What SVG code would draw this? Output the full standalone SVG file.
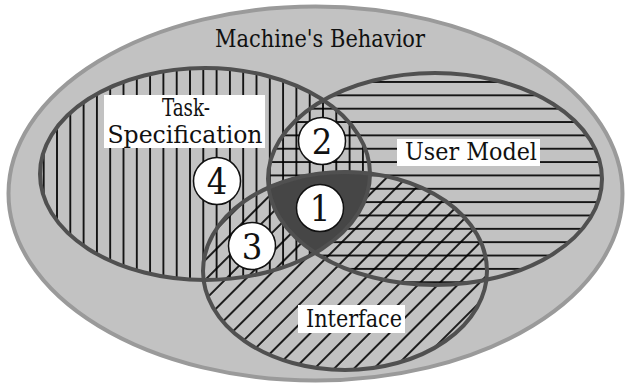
<svg xmlns="http://www.w3.org/2000/svg" width="625" height="387" viewBox="0 0 625 387">
<style>
.lbl{font-family:'DejaVu Serif Condensed','DejaVu Serif',serif;font-size:24px;fill:#111;text-anchor:middle}
.num{font-family:'DejaVu Serif Condensed','DejaVu Serif',serif;font-size:36px;fill:#111;text-anchor:middle}
.set{fill:none;stroke:#505050;stroke-width:4}
.box{fill:#fff}
.badge{fill:#fff;stroke:#111;stroke-width:1.5}
.hl{stroke:#000;stroke-width:1.7}
</style>
<defs>
<pattern id="pv" patternUnits="userSpaceOnUse" x="10.45" y="0" width="13.3" height="20"><line class="hl" x1="6.65" y1="0" x2="6.65" y2="20"/></pattern>
<pattern id="ph" patternUnits="userSpaceOnUse" x="0" y="75.3" width="20" height="13.35"><line class="hl" x1="0" y1="6.675" x2="20" y2="6.675"/></pattern>
<pattern id="pd" patternUnits="userSpaceOnUse" x="0" y="0" width="14" height="20" patternTransform="rotate(45)"><line class="hl" x1="7" y1="0" x2="7" y2="20"/></pattern>
<clipPath id="cT"><ellipse cx="205" cy="174" rx="165" ry="106"/></clipPath>
<clipPath id="cU"><ellipse cx="435" cy="179" rx="167" ry="106"/></clipPath>
</defs>
<rect width="625" height="387" fill="#fff"/>
<g id="machine">
<ellipse cx="315.5" cy="193.5" rx="307" ry="187" fill="#c2c2c2" stroke="#9a9a9a" stroke-width="4"/>
<text class="lbl" x="320" y="47" font-size="26" textLength="210" lengthAdjust="spacingAndGlyphs">Machine's Behavior</text>
</g>
<g id="task-fill"><ellipse cx="205" cy="174" rx="165" ry="106" fill="url(#pv)"/></g>
<g id="user-fill"><ellipse cx="435" cy="179" rx="167" ry="106" fill="url(#ph)"/></g>
<g id="interface-fill"><ellipse cx="345" cy="271" rx="142" ry="99" fill="url(#pd)"/></g>
<g id="core" clip-path="url(#cT)"><g clip-path="url(#cU)"><ellipse cx="345" cy="271" rx="142" ry="99" fill="#464646" stroke="#333" stroke-width="3"/></g></g>
<g id="outlines">
<ellipse class="set" cx="205" cy="174" rx="165" ry="106"/>
<ellipse class="set" cx="435" cy="179" rx="167" ry="106"/>
<ellipse class="set" cx="345" cy="271" rx="142" ry="99"/>
</g>
<g id="task">
<rect class="box" x="104" y="95" width="161" height="53"/>
<text class="lbl" x="186" y="116" textLength="48" lengthAdjust="spacingAndGlyphs">Task-</text>
<text class="lbl" x="185" y="143" textLength="155" lengthAdjust="spacingAndGlyphs">Specification</text>
</g>
<g id="user">
<rect class="box" x="397" y="139" width="143" height="27"/>
<text class="lbl" x="471" y="160" textLength="132" lengthAdjust="spacingAndGlyphs">User Model</text>
</g>
<g id="interface">
<rect class="box" x="298" y="305" width="107" height="28"/>
<text class="lbl" x="354" y="327" textLength="96" lengthAdjust="spacingAndGlyphs">Interface</text>
</g>
<g id="n1"><circle class="badge" cx="320" cy="208" r="23.5"/><text class="num" x="320" y="221">1</text></g>
<g id="n2"><circle class="badge" cx="322" cy="141" r="23.5"/><text class="num" x="322" y="154">2</text></g>
<g id="n3"><circle class="badge" cx="252" cy="246" r="23.5"/><text class="num" x="252" y="259">3</text></g>
<g id="n4"><circle class="badge" cx="217" cy="181" r="23.5"/><text class="num" x="217" y="194">4</text></g>
</svg>
